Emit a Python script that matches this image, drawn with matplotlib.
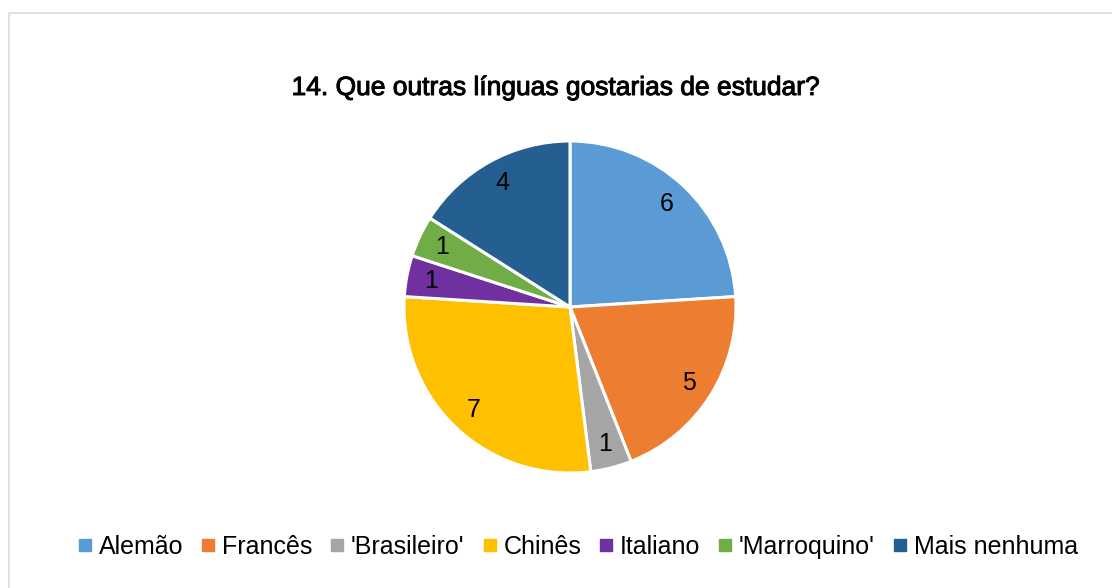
import math
import matplotlib.pyplot as plt
import matplotlib.patheffects as pe
from matplotlib.lines import Line2D
from matplotlib.patches import Rectangle

plt.rcParams['font.family'] = ['Liberation Sans', 'DejaVu Sans']

labels = ['Alemão', 'Francês', "'Brasileiro'", 'Chinês', 'Italiano', "'Marroquino'", 'Mais nenhuma']
values = [6, 5, 1, 7, 1, 1, 4]
colors = ['#5B9BD5', '#ED7D31', '#A5A5A5', '#FFC000', '#7030A0', '#70AD47', '#255E91']

fig = plt.figure(figsize=(11.12, 5.88), dpi=100)

# light frame around the chart area
fig.patches.append(Rectangle((9 / 1112, -0.1), 1.2, 1.1 - 13 / 588, transform=fig.transFigure,
                             fill=False, edgecolor='#D9D9D9', linewidth=1.2))

ax = fig.add_axes([(570 - 166) / 1112, (588 - 307 - 166) / 588, 332 / 1112, 332 / 588])
wedges, _ = ax.pie(values, colors=colors, startangle=90, counterclock=False,
                   wedgeprops=dict(edgecolor='white', linewidth=2.2))
ax.set_xlim(-1, 1)
ax.set_ylim(-1, 1)
ax.set_aspect('auto')
ax.axis('off')

for w, v in zip(wedges, values):
    ang = math.radians((w.theta1 + w.theta2) / 2)
    d = 0.85
    ax.text(d * math.cos(ang), d * math.sin(ang), str(v), ha='center', va='center', fontsize=18)

fig.text(556 / 1112, 1 - 88 / 588, '14. Que outras línguas gostarias de estudar?',
         ha='center', va='center', fontsize=19,
         path_effects=[pe.withStroke(linewidth=0.7, foreground='black')])

handles = [Line2D([], [], marker='s', linestyle='none', markersize=9, color=c) for c in colors]
fig.legend(handles, labels, loc='center', bbox_to_anchor=(577 / 1112, 1 - 547 / 588), ncol=7,
           frameon=False, fontsize=18, handletextpad=0.2, columnspacing=0.65, handlelength=0.7)

fig.savefig('out.png', dpi=100, facecolor='white')
